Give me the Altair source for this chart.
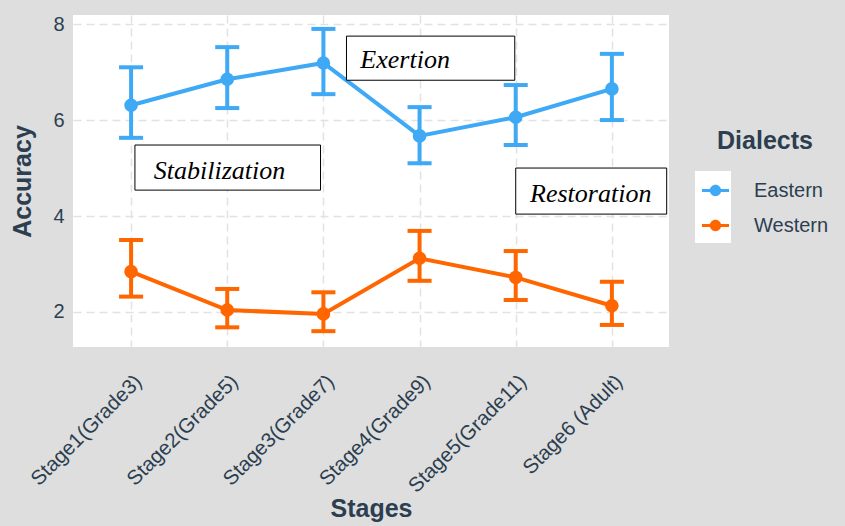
import json
import altair as alt
import pandas as pd

# Mean accuracy with lower / upper error limits per stage and dialect
stages = ["Stage1(Grade3)", "Stage2(Grade5)", "Stage3(Grade7)",
          "Stage4(Grade9)", "Stage5(Grade11)", "Stage6 (Adult)"]
eastern_mean = [6.31, 6.85, 7.19, 5.67, 6.06, 6.65]
eastern_low = [5.63, 6.25, 6.54, 5.10, 5.48, 6.00]
eastern_high = [7.10, 7.52, 7.90, 6.27, 6.73, 7.38]
western_mean = [2.84, 2.04, 1.96, 3.12, 2.72, 2.13]
western_low = [2.32, 1.68, 1.60, 2.65, 2.25, 1.73]
western_high = [3.50, 2.48, 2.41, 3.69, 3.27, 2.63]
dialects = ["Eastern", "Western"]
colors = ["#3fa9f5", "#ff6600"]

# Phase annotations: label, box corners (stage index / accuracy), text anchor
phase_labels = ["Stabilization", "Exertion", "Restoration"]
phase_x1 = [1.04, 3.24, 5.00]
phase_x2 = [2.97, 4.99, 6.57]
phase_y1 = [5.48, 7.75, 5.00]
phase_y2 = [4.54, 6.83, 4.04]
phase_tx = [1.92, 3.85, 5.78]
phase_ty = [4.77, 7.08, 4.30]

rows = []
for i in range(len(stages)):
    rows.append({"idx": i + 1, "Dialect": "Eastern", "mean": eastern_mean[i],
                 "lo": eastern_low[i], "hi": eastern_high[i]})
for i in range(len(stages)):
    rows.append({"idx": i + 1, "Dialect": "Western", "mean": western_mean[i],
                 "lo": western_low[i], "hi": western_high[i]})
df = pd.DataFrame(rows)

phases = pd.DataFrame({"label": phase_labels, "x1": phase_x1, "x2": phase_x2,
                       "y1": phase_y1, "y2": phase_y2, "tx": phase_tx, "ty": phase_ty})

text_color = "#2c3e50"
cap_half = 0.125

x_scale = alt.Scale(domain=[0.396, 6.594], nice=False, zero=False)
y_scale = alt.Scale(domain=[1.27, 8.19], nice=False, zero=False)
color_scale = alt.Scale(domain=dialects, range=colors)

x_axis = alt.Axis(
    values=list(range(1, len(stages) + 1)),
    labelExpr=f"{json.dumps(stages)}[datum.value - 1]",
    labelAngle=-45, labelFontSize=20.5, labelPadding=24, labelColor=text_color,
    labelOverlap=False, labelBound=False,
    ticks=False, domain=False, title="Stages", titleFontSize=25,
    titleFontWeight="bold", titleColor=text_color,
    titleY=161, titleBaseline="middle",
)
y_axis = alt.Axis(
    values=[2, 4, 6, 8], labelFontSize=20, labelPadding=9, labelColor=text_color,
    ticks=False, domain=False, title="Accuracy", titleFontSize=25,
    titleFontWeight="bold", titleColor=text_color, titlePadding=17,
)

legend_symbol = ("M-1,-0.12L1,-0.12L1,0.12L-1,0.12Z "
                 "M0.42,0A0.42,0.42,0,1,1,-0.42,0A0.42,0.42,0,1,1,0.42,0Z")

legend = alt.Legend(
    title="Dialects", orient="none", legendX=629, legendY=114,
    titleFontSize=25, titleFontWeight="bold", titleColor=text_color,
    titleAnchor="middle", titlePadding=23,
    labelFontSize=20, labelColor=text_color, labelOffset=25,
    symbolType=legend_symbol, symbolSize=729, symbolStrokeWidth=0,
    rowPadding=11, padding=0,
)
color_enc = alt.Color("Dialect:N", scale=color_scale, legend=legend)

base = alt.Chart(df)

lines = base.mark_line(strokeWidth=4).encode(
    x=alt.X("idx:Q", scale=x_scale, axis=x_axis),
    y=alt.Y("mean:Q", scale=y_scale, axis=y_axis),
    color=color_enc,
)

bars = base.mark_rule(strokeWidth=4).encode(
    x=alt.X("idx:Q", scale=x_scale),
    y=alt.Y("lo:Q", scale=y_scale),
    y2="hi:Q",
    color=color_enc,
)

caps = base.transform_calculate(
    xa=f"datum.idx - {cap_half}", xb=f"datum.idx + {cap_half}"
).transform_fold(["lo", "hi"], as_=["end", "yv"]).mark_rule(strokeWidth=4).encode(
    x=alt.X("xa:Q", scale=x_scale),
    x2="xb:Q",
    y=alt.Y("yv:Q", scale=y_scale),
    color=color_enc,
)

points = base.mark_point(filled=True, size=185, opacity=1).encode(
    x=alt.X("idx:Q", scale=x_scale),
    y=alt.Y("mean:Q", scale=y_scale),
    color=color_enc,
)

# White key background behind the legend symbols
key_bg = alt.Chart(pd.DataFrame({"k": [0]})).mark_rect(
    fill="white", clip=False
).encode(
    x=alt.value(622), x2=alt.value(658), y=alt.value(156), y2=alt.value(228)
)

boxes = alt.Chart(phases).mark_rect(
    fill="white", stroke="black", strokeWidth=1
).encode(
    x=alt.X("x1:Q", scale=x_scale), x2="x2:Q",
    y=alt.Y("y1:Q", scale=y_scale), y2="y2:Q",
)

labels = alt.Chart(phases).mark_text(
    font="Liberation Serif", fontStyle="italic", fontSize=26,
    color="black", baseline="alphabetic", align="center",
).encode(
    x=alt.X("tx:Q", scale=x_scale),
    y=alt.Y("ty:Q", scale=y_scale),
    text="label:N",
)

chart = alt.layer(key_bg, lines, bars, caps, points, boxes, labels).properties(
    width=596, height=332,
    background="#dedede",
    padding={"left": 73, "top": 15, "right": 176, "bottom": 179},
    autosize=alt.AutoSizeParams(type="none"),
).configure_view(
    fill="white", stroke=None
).configure_axis(
    labelFont="Liberation Sans", titleFont="Liberation Sans",
    gridColor="#e2e2e2", gridDash=[8, 5], gridWidth=1.5,
).configure_legend(
    labelFont="Liberation Sans", titleFont="Liberation Sans",
)

chart.save("out.html", embed_options={"renderer": "svg", "actions": False})
